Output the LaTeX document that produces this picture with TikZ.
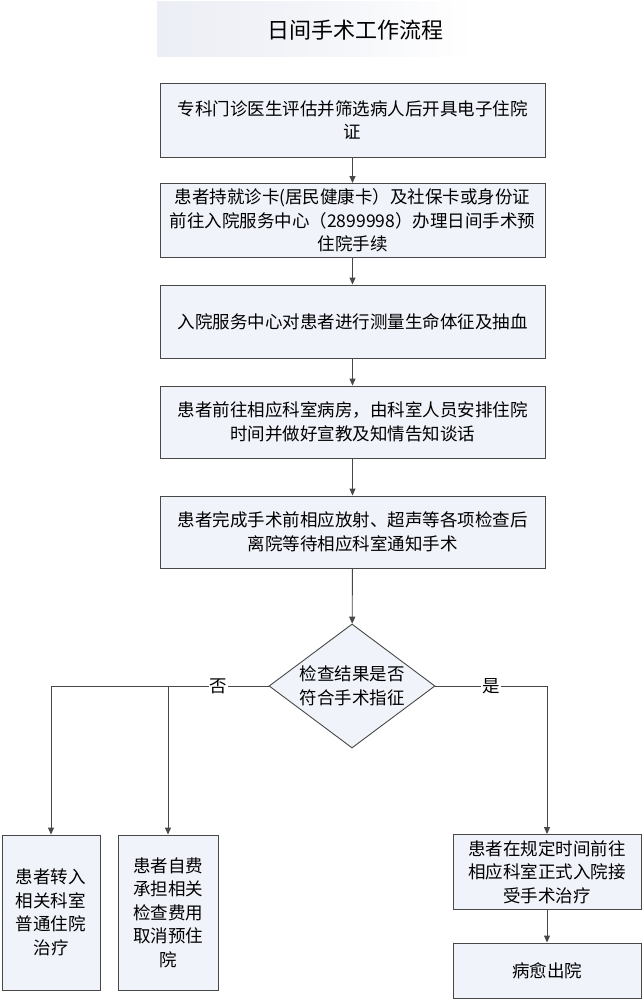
\documentclass[tikz,border=0pt]{standalone}
\usepackage{fontspec}
\setmainfont{Noto Sans CJK SC}
\usetikzlibrary{shapes.geometric,arrows.meta}

\definecolor{boxfill}{RGB}{241,243,250}
\definecolor{titlefill}{RGB}{236,238,245}
\definecolor{linegray}{RGB}{72,72,72}

\begin{document}
\begin{tikzpicture}[x=1pt,y=-1pt,
  font=\fontsize{17.5}{23.5}\selectfont,
  stepbox/.style={draw=linegray,line width=0.9pt,fill=boxfill,align=center,inner sep=0pt},
  check/.style={diamond,draw=linegray,line width=0.9pt,fill=boxfill,align=center,inner sep=0pt,aspect=1.34},
  flow/.style={-{Triangle[length=7pt,width=6pt]},line width=0.9pt,draw=linegray},
  tag/.style={fill=white,inner sep=1pt}]

\useasboundingbox (0,0) rectangle (644,1000);

% title
\shade[left color=titlefill,right color=white,middle color=titlefill!60] (157,2) rectangle (475,57);
\node (title) at (355,30) {\fontsize{22}{26}\selectfont 日间手术工作流程};

% main steps
\node[stepbox,minimum width=385,minimum height=74] (s1) at (352.5,120) {专科门诊医生评估并筛选病人后开具电子住院\\证};
\node[stepbox,minimum width=385,minimum height=74] (s2) at (352.5,220.5) {患者持就诊卡(居民健康卡）及社保卡或身份证\\前往入院服务中心（2899998）办理日间手术预\\住院手续};
\node[stepbox,minimum width=385,minimum height=73] (s3) at (352.5,321.5) {入院服务中心对患者进行测量生命体征及抽血};
\node[stepbox,minimum width=385,minimum height=72] (s4) at (352.5,422) {患者前往相应科室病房，由科室人员安排住院\\时间并做好宣教及知情告知谈话};
\node[stepbox,minimum width=385,minimum height=72] (s5) at (352.5,532) {患者完成手术前相应放射、超声等各项检查后\\离院等待相应科室通知手术};

\node[check,minimum width=166,minimum height=124] (chk) at (352,686) {检查结果是否\\符合手术指征};

% outcomes
\node[stepbox,minimum width=98,minimum height=155] (no1) at (51,912.5) {患者转入\\相关科室\\普通住院\\治疗};
\node[stepbox,minimum width=100,minimum height=155] (no2) at (168,912.5) {患者自费\\承担相关\\检查费用\\取消预住\\院};
\node[stepbox,minimum width=188,minimum height=75] (yes1) at (547,872) {患者在规定时间前往\\相应科室正式入院接\\受手术治疗};
\node[stepbox,minimum width=188,minimum height=55] (yes2) at (547,970.5) {病愈出院};

\draw[flow] (s1) -- (s2);
\draw[flow] (s2) -- (s3);
\draw[flow] (s3) -- (s4);
\draw[flow] (s4) -- (s5);
\draw[flow] (s5) -- (chk);

\coordinate (split) at (no2.north |- chk.west);
\draw[line width=0.9pt,draw=linegray] (chk.west) -- node[tag]{否} (split);
\draw[flow] (split) -| (no1.north);
\draw[flow] (split) -- (no2.north);

\draw[flow] (chk.east) -| node[tag,pos=0.25]{是} (yes1.north);
\draw[flow] (yes1) -- (yes2);

\end{tikzpicture}
\end{document}
